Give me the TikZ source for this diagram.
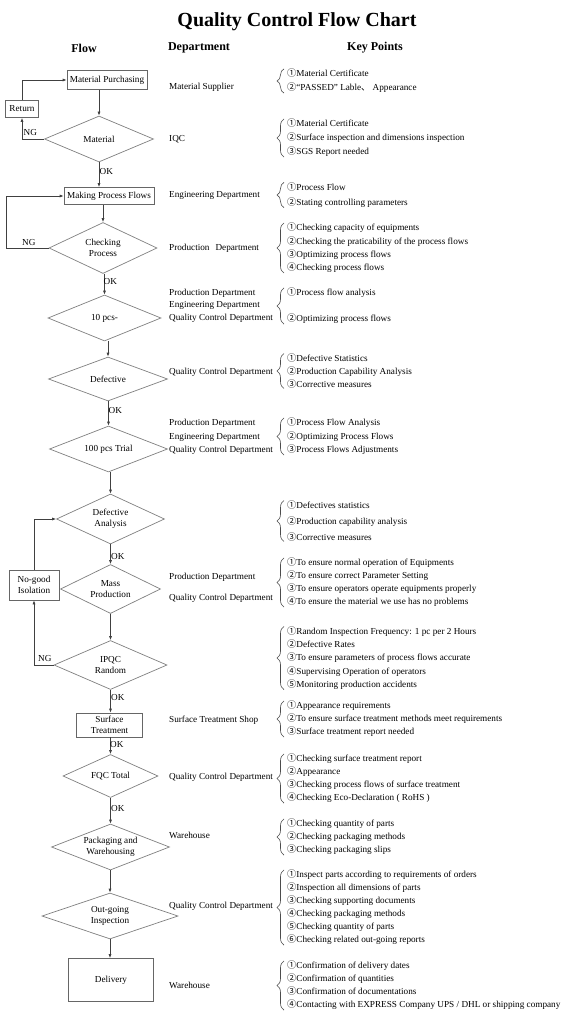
\documentclass[tikz,border=0pt]{standalone}
\usepackage{fontspec}
\setmainfont{Liberation Serif}
\newfontfamily\cjkf[Scale=1.0]{Noto Sans CJK SC}
\usetikzlibrary{shapes.geometric,arrows.meta,decorations.pathreplacing}
\newcommand\cn[1]{{\cjkf #1}}
\newcommand\fsz[1]{\fontsize{9.2}{#1}\selectfont}
\begin{document}
\begin{tikzpicture}[x=1pt,y=-1pt,
  every node/.style={font=\fsz{11}, text=black},
  fbox/.style={draw=black!60, line width=0.7pt, inner sep=1pt, align=center},
  dia/.style={diamond, draw=black!50, line width=0.7pt, inner sep=0pt, shape aspect=2.5, align=center},
  arr/.style={draw=black!75, line width=0.7pt, -{Latex[length=4pt,width=3pt]}},
  lbl/.style={inner sep=0pt, anchor=west},
  dept/.style={inner sep=0pt, anchor=west, align=left},
  kp/.style={inner sep=0pt, anchor=west, align=left},
  kbrace/.style={draw=black!70, line width=0.6pt, decorate, decoration={brace, amplitude=7pt}},
]
\useasboundingbox[fill=white] (0,0) rectangle (573,1024);

% titles
\node[font=\fontsize{20}{24}\selectfont\bfseries] (title) at (297,22) {Quality Control Flow Chart};
\node[font=\fontsize{12}{14}\selectfont\bfseries] (hflow) at (84,48) {Flow};
\node[font=\fontsize{12}{14}\selectfont\bfseries] (hdept) at (199,48) {Department};
\node[font=\fontsize{12}{14}\selectfont\bfseries] (hkey) at (375,48) {Key Points};

% flow nodes
\node[fbox, minimum width=80pt, minimum height=19pt] (mp) at (107,80) {Material Purchasing};
\node[fbox, minimum width=33pt, minimum height=17pt] (ret) at (22,109) {Return};
\node[dia, minimum width=109pt, minimum height=46pt] (mat) at (99,139) {Material};
\node[fbox, minimum width=90pt, minimum height=17pt] (mpf) at (109,196) {Making Process Flows};
\node[dia, minimum width=108pt, minimum height=51pt] (chk) at (103,248) {Checking\\Process};
\node[dia, minimum width=113pt, minimum height=46pt] (p10) at (104.5,318) {10 pcs-};
\node[dia, minimum width=119pt, minimum height=44pt] (def) at (108,379) {Defective};
\node[dia, minimum width=118pt, minimum height=46pt] (p100) at (108.5,449) {100 pcs Trial};
\node[dia, minimum width=108pt, minimum height=50pt] (dan) at (110.5,519) {Defective\\Analysis};
\node[dia, minimum width=100pt, minimum height=49pt] (mass) at (110.5,589) {Mass\\Production};
\node[fbox, minimum width=50pt, minimum height=30pt] (nog) at (34,585) {No-good\\Isolation};
\node[dia, minimum width=113pt, minimum height=49pt] (ipqc) at (110.5,665) {IPQC\\Random};
\node[fbox, minimum width=66pt, minimum height=24pt] (surf) at (109.5,725) {Surface\\Treatment};
\node[dia, minimum width=95pt, minimum height=43pt] (fqc) at (110.5,776) {FQC Total};
\node[dia, minimum width=118pt, minimum height=46pt] (pack) at (110.5,847) {Packaging and\\Warehousing};
\node[dia, minimum width=136pt, minimum height=46pt] (out) at (110,916) {Out-going\\Inspection};
\node[fbox, minimum width=85pt, minimum height=43pt] (del) at (111,980) {Delivery};

% main connectors
\draw[arr] (mp.south -| mat.north) -- (mat.north);
\draw[arr] (mat.south) -- (mat.south |- mpf.north);
\draw[arr] (mpf.south -| chk.north) -- (chk.north);
\draw[arr] (chk.south -| p10.north) -- (p10.north);
\draw[arr] (p10.south -| def.north) -- (def.north);
\draw[arr] (def.south -| p100.north) -- (p100.north);
\draw[arr] (p100.south -| dan.north) -- (dan.north);
\draw[arr] (dan.south) -- (mass.north);
\draw[arr] (mass.south) -- (ipqc.north);
\draw[arr] (ipqc.south) -- (ipqc.south |- surf.north);
\draw[arr] (surf.south -| fqc.north) -- (fqc.north);
\draw[arr] (fqc.south) -- (pack.north);
\draw[arr] (pack.south -| out.north) -- (out.north);
\draw[arr] (out.south) -- (out.south |- del.north);

% loops
\draw[arr] (mat.west) -| (ret.south);
\draw[arr] (ret.north) |- (mp.west);
\coordinate (lp2) at (6,248);
\draw[arr] (chk.west) -- (lp2) |- (mpf.west);
\draw[arr] (ipqc.west) -| (nog.south);
\draw[arr] (nog.north) |- (dan.west);

% labels
\node[lbl] (ng1) at (23.5,133) {NG};
\node[lbl] (ng2) at (22,242) {NG};
\node[lbl] (ng3) at (38,658) {NG};
\node[lbl] (ok1) at (99.5,172) {OK};
\node[lbl] (ok2) at (103.5,281) {OK};
\node[lbl] (ok3) at (108.5,410) {OK};
\node[lbl] (ok4) at (111,556) {OK};
\node[lbl] (ok5) at (111,697) {OK};
\node[lbl] (ok6) at (110,744) {OK};
\node[lbl] (ok7) at (111,808) {OK};

% departments
\node[dept] (d1) at (169,87) {Material Supplier};
\node[dept] (d2) at (169,139) {IQC};
\node[dept] (d3) at (169,195) {Engineering Department};
\node[dept] (d4) at (169,248) {Production\hspace{6pt}Department};
\node[dept, font=\fsz{12.5}] (d5) at (169,305.5) {Production Department\\Engineering Department\\Quality Control Department};
\node[dept] (d6) at (169,372) {Quality Control Department};
\node[dept, font=\fsz{13.5}] (d7) at (169,437) {Production Department\\Engineering Department\\Quality Control Department};
\node[dept, font=\fsz{21}] (d8) at (169,587.5) {Production Department\\Quality Control Department};
\node[dept] (d9) at (169,720) {Surface Treatment Shop};
\node[dept] (d10) at (169,777) {Quality Control Department};
\node[dept] (d11) at (169,835) {Warehouse};
\node[dept] (d12) at (169,906) {Quality Control Department};
\node[dept] (d13) at (169,985) {Warehouse};

% key points
\node[kp, font=\fsz{14}] (k1) at (287,81) {\cn{①}Material Certificate\\\cn{②}“PASSED” Lable\cn{、} Appearance};
\node[kp, font=\fsz{14}] (k2) at (287,138) {\cn{①}Material Certificate\\\cn{②}Surface inspection and dimensions inspection\\\cn{③}SGS Report needed};
\node[kp, font=\fsz{15}] (k3) at (287,195) {\cn{①}Process Flow\\\cn{②}Stating controlling parameters};
\node[kp, font=\fsz{13.3}] (k4) at (287,248) {\cn{①}Checking capacity of equipments\\\cn{②}Checking the praticability of the process flows\\\cn{③}Optimizing process flows\\\cn{④}Checking process flows};
\node[kp, font=\fsz{26}] (k5) at (287,306) {\cn{①}Process flow analysis\\\cn{②}Optimizing process flows};
\node[kp, font=\fsz{13}] (k6) at (287,371) {\cn{①}Defective Statistics\\\cn{②}Production Capability Analysis\\\cn{③}Corrective measures};
\node[kp, font=\fsz{13.5}] (k7) at (287,436.5) {\cn{①}Process Flow Analysis\\\cn{②}Optimizing Process Flows\\\cn{③}Process Flows Adjustments};
\node[kp, font=\fsz{16}] (k8) at (287,521) {\cn{①}Defectives statistics\\\cn{②}Production capability analysis\\\cn{③}Corrective measures};
\node[kp, font=\fsz{13}] (k9) at (287,582.5) {\cn{①}To ensure normal operation of Equipments\\\cn{②}To ensure correct Parameter Setting\\\cn{③}To ensure operators operate equipments properly\\\cn{④}To ensure the material we use has no problems};
\node[kp, font=\fsz{13.25}] (k10) at (287,658) {\cn{①}Random Inspection Frequency: 1 pc per 2 Hours\\\cn{②}Defective Rates\\\cn{③}To ensure parameters of process flows accurate\\\cn{④}Supervising Operation of operators\\\cn{⑤}Monitoring production accidents};
\node[kp, font=\fsz{13}] (k11) at (287,719) {\cn{①}Appearance requirements\\\cn{②}To ensure surface treatment methods meet requirements\\\cn{③}Surface treatment report needed};
\node[kp, font=\fsz{13}] (k12) at (287,778.5) {\cn{①}Checking surface treatment report\\\cn{②}Appearance\\\cn{③}Checking process flows of surface treatment\\\cn{④}Checking Eco-Declaration ( RoHS )};
\node[kp, font=\fsz{13}] (k13) at (287,837) {\cn{①}Checking quantity of parts\\\cn{②}Checking packaging methods\\\cn{③}Checking packaging slips};
\node[kp, font=\fsz{13}] (k14) at (287,907.5) {\cn{①}Inspect parts according to requirements of orders\\\cn{②}Inspection all dimensions of parts\\\cn{③}Checking supporting documents\\\cn{④}Checking packaging methods\\\cn{⑤}Checking quantity of parts\\\cn{⑥}Checking related out-going reports};
\node[kp, font=\fsz{13}] (k15) at (287,985.5) {\cn{①}Confirmation of delivery dates\\\cn{②}Confirmation of quantities\\\cn{③}Confirmation of documentations\\\cn{④}Contacting with EXPRESS Company UPS / DHL or shipping company};

% braces
\foreach \k in {k1,k2,k3,k4,k5,k6,k7,k8,k9,k10,k11,k12,k13,k14,k15}
  \draw[kbrace] ([xshift=-3pt]\k.south west) -- ([xshift=-3pt]\k.north west);
\end{tikzpicture}
\end{document}
